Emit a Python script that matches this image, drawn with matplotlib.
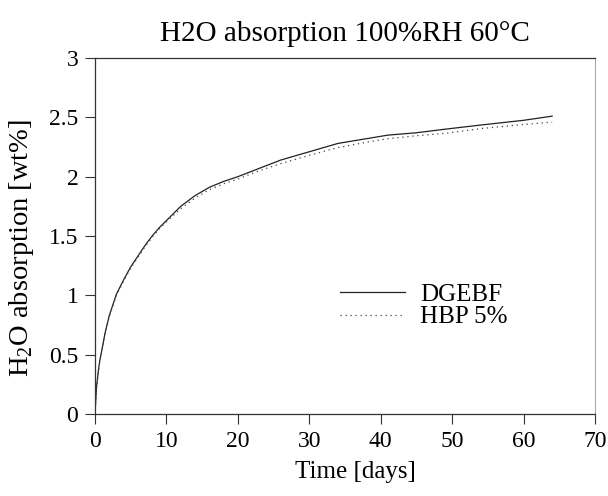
import matplotlib
matplotlib.use("Agg")
import matplotlib.pyplot as plt

plt.rcParams['font.family'] = ['Liberation Serif', 'DejaVu Serif']
plt.rcParams['mathtext.fontset'] = 'custom'
plt.rcParams['mathtext.rm'] = 'Liberation Serif'

# Water uptake over time (days) for the two resins
days = [0, 0.2, 0.5, 0.7, 1, 1.4, 2, 3, 4, 5, 6, 7, 8, 9, 10, 12, 14, 16, 18, 20,
        23, 26, 30, 34, 38, 41, 45, 49, 54, 60, 64]
dgebf = [0, 0.22, 0.38, 0.46, 0.55, 0.68, 0.83, 1.01, 1.13, 1.24, 1.33, 1.42, 1.5,
         1.57, 1.63, 1.75, 1.84, 1.91, 1.96, 2.0, 2.07, 2.14, 2.21, 2.28, 2.32, 2.35,
         2.37, 2.40, 2.435, 2.475, 2.51]
hbp5 = [0, 0.21, 0.37, 0.45, 0.54, 0.67, 0.82, 1.0, 1.12, 1.23, 1.32, 1.41, 1.49,
        1.56, 1.62, 1.73, 1.82, 1.89, 1.94, 1.98, 2.05, 2.11, 2.18, 2.245, 2.29, 2.32,
        2.345, 2.365, 2.405, 2.44, 2.46]

x_ticks = [0, 10, 20, 30, 40, 50, 60, 70]
y_ticks = [0, 0.5, 1, 1.5, 2, 2.5, 3]
y_tick_labels = ['0', '0.5', '1', '1.5', '2', '2.5', '3']

fig = plt.figure(figsize=(6.08, 4.96), dpi=100)
ax = fig.add_axes([95 / 608, 1 - 414 / 496, 500 / 608, 356 / 496])

ax.plot(days, dgebf, color='#222222', lw=0.9, label='DGEBF')
ax.plot(days, hbp5, color='#444444', lw=0.9, ls=(0, (1, 3)), label='HBP 5%')

ax.set_xlim(0, 70)
ax.set_ylim(0, 3)
ax.set_xticks(x_ticks)
ax.set_yticks(y_ticks)
ax.set_yticklabels(y_tick_labels)
ax.tick_params(direction='out', length=7, width=0.8, labelsize=17, color='#333333', pad=5)

for side in ['left', 'bottom', 'top']:
    ax.spines[side].set_color('#333333')
    ax.spines[side].set_linewidth(0.9)
ax.spines['right'].set_color('#aaaaaa')
ax.spines['right'].set_linewidth(0.8)

ax.set_xlabel('Time [days]', fontsize=18)
ax.xaxis.set_label_coords(0.52, -0.133)
ax.set_ylabel('H$_2$O absorption [wt%]', fontsize=20.5)
ax.yaxis.set_label_coords(-0.118, 0.465)
ax.set_title('H2O absorption 100%RH 60°C', fontsize=21, pad=12)

ax.legend(loc='upper left', bbox_to_anchor=(0.47, 0.395), frameon=False, fontsize=18,
          handlelength=2.6, handletextpad=0.6, labelspacing=0.0, borderaxespad=0)

fig.savefig('out.png', dpi=100)
